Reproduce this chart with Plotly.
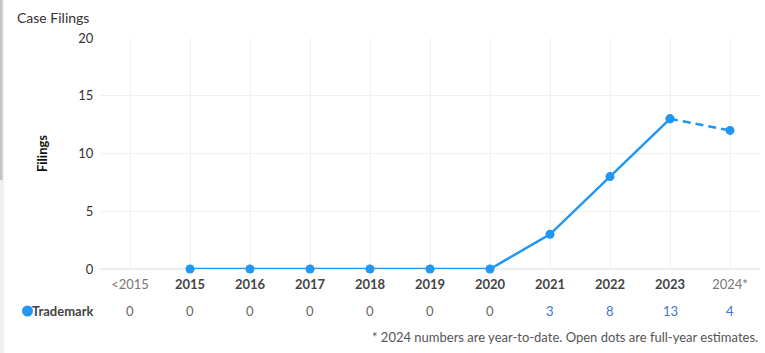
import plotly.graph_objects as go

categories = ["<2015", "2015", "2016", "2017", "2018", "2019", "2020", "2021", "2022", "2023", "2024*"]
filings = [None, 0, 0, 0, 0, 0, 0, 3, 8, 13, None]
estimate_x = ["2023", "2024*"]
estimate_y = [13, 12]
table_values = [0, 0, 0, 0, 0, 0, 0, 3, 8, 13, 4]
series_name = "Trademark"
y_ticks = [0, 5, 10, 15, 20]

BLUE = "#2196F3"
FONT = "Lato"

W, H = 765, 353
L, R, T, B = 100, 5, 38, 84
pw, ph = W - L - R, H - T - B


def px_x(x):
    return (x - L) / pw


def px_y(y):
    return (H - B - y) / ph


tick_text = []
for c in categories:
    if c in ("<2015", "2024*"):
        tick_text.append(f"<span style='color:#777'>{c.replace('<', '&lt;')}</span>")
    else:
        tick_text.append(f"<b>{c}</b>")

fig = go.Figure()
fig.add_trace(go.Scatter(
    x=categories, y=filings, mode="lines+markers",
    line=dict(color=BLUE, width=2.5),
    marker=dict(color=BLUE, size=9),
    cliponaxis=False, showlegend=False, hoverinfo="x+y",
))
fig.add_trace(go.Scatter(
    x=estimate_x, y=estimate_y, mode="lines+markers",
    line=dict(color=BLUE, width=2.5, dash="8px,5px"),
    marker=dict(color=BLUE, size=9),
    cliponaxis=False, showlegend=False,
))

annotations = []
for i, (c, v) in enumerate(zip(categories, table_values)):
    annotations.append(dict(
        x=i, y=px_y(311), xref="x", yref="paper", text=str(v), showarrow=False,
        xanchor="center", yanchor="middle",
        font=dict(family=FONT, size=13, color="#3d73d6" if v > 0 else "#666"),
    ))
annotations.append(dict(
    x=px_x(96), y=px_y(311), xref="paper", yref="paper", text=f"<b>{series_name}</b>",
    showarrow=False, xanchor="right", yanchor="middle",
    font=dict(family=FONT, size=13, color="#444"),
))
annotations.append(dict(
    x=px_x(760), y=px_y(337), xref="paper", yref="paper",
    text="* 2024 numbers are year-to-date. Open dots are full-year estimates.",
    showarrow=False, xanchor="right", yanchor="middle",
    font=dict(family=FONT, size=13, color="#555"),
))
annotations.append(dict(
    x=px_x(15), y=px_y(17), xref="paper", yref="paper", showarrow=False, text="Case Filings",
    font=dict(family=FONT, size=14, color="#333"), xanchor="left", yanchor="middle",
))

shapes = [
    dict(type="rect", xref="paper", yref="paper", x0=px_x(0), x1=px_x(4), y0=px_y(353), y1=px_y(0),
         fillcolor="#f0f0f0", line=dict(width=0), layer="below"),
    dict(type="rect", xref="paper", yref="paper", x0=px_x(0), x1=px_x(2.5), y0=px_y(180), y1=px_y(0),
         fillcolor="#c4c4c4", line=dict(width=0), layer="below"),
    dict(type="circle", xref="paper", yref="paper", x0=px_x(22), x1=px_x(33), y0=px_y(316.5), y1=px_y(305.5),
         fillcolor=BLUE, line=dict(width=0)),
]

fig.update_layout(
    width=W, height=H,
    margin=dict(l=L, r=R, t=T, b=B),
    plot_bgcolor="white", paper_bgcolor="white",
    font=dict(family=FONT, size=13, color="#333"),
    annotations=annotations, shapes=shapes,
    xaxis=dict(
        type="category", categoryorder="array", categoryarray=categories,
        tickmode="array", tickvals=categories, ticktext=tick_text,
        range=[-0.5, len(categories) - 0.5],
        showgrid=True, gridcolor="#f0f0f0", gridwidth=1,
        ticks="outside", ticklen=3, tickcolor="rgba(0,0,0,0)",
        tickfont=dict(family=FONT, size=13, color="#444"),
        showline=False, zeroline=False, fixedrange=True,
    ),
    yaxis=dict(
        range=[0, 20], tickvals=y_ticks,
        showgrid=True, gridcolor="#f0f0f0", gridwidth=1,
        zeroline=True, zerolinecolor="#eeeeee",
        tickfont=dict(family=FONT, size=13, color="#333"),
        ticks="outside", ticklen=3, tickcolor="rgba(0,0,0,0)",
        title=dict(text="<b>Filings</b>", font=dict(family=FONT, size=13, color="#111"), standoff=27),
        fixedrange=True,
    ),
)

fig.write_html("out.html", config={"displayModeBar": False})
